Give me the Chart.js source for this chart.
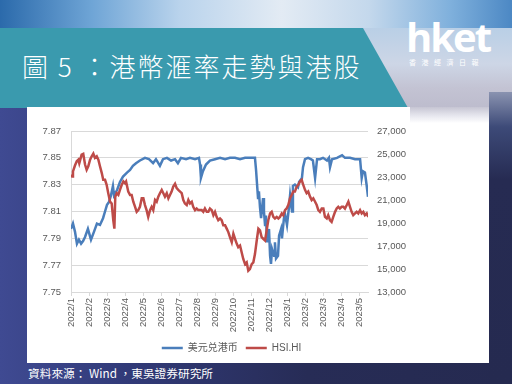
<!DOCTYPE html>
<html><head><meta charset="utf-8">
<script src="https://cdn.jsdelivr.net/npm/chart.js@4.4.1/dist/chart.umd.min.js"></script>
<style>
html,body{margin:0;padding:0;}
body{width:512px;height:384px;overflow:hidden;position:relative;
 background:linear-gradient(to right,#3f4a92 0%,#313a78 25%,#272c56 60%,#252a50 100%);
 font-family:"Noto Sans CJK TC","Noto Sans",sans-serif;}
#sky{position:absolute;left:0;top:0;width:512px;height:30px;
 background:linear-gradient(to right,#2b6aab 0%,#6fa5d6 18%,#b9d3ec 35%,#e3ebf4 55%,#c4d8ec 72%,#7fb0dc 88%,#4c88c4 100%);}
#rside{position:absolute;left:360px;top:28px;width:152px;height:80px;
 background:linear-gradient(180deg,#b9cfe6 0%,#cdd6e6 45%,#c3c3d3 75%,#bdbccd 100%);}
#rstrip{position:absolute;left:489px;top:92px;width:23px;height:292px;
 background:linear-gradient(180deg,#8a93b0 0%,#3d4a78 12%,#262b52 30%,#252a50 100%);}
#banner{position:absolute;left:0;top:28px;width:410px;height:80px;background:#3a9aae;
 clip-path:polygon(0 0,363px 0,408px 100%,0 100%);}
#title{position:absolute;left:22px;top:48px;color:#fff;font-size:26px;font-weight:300;letter-spacing:2px;white-space:nowrap;line-height:36px;}
#logo{position:absolute;left:406px;top:12px;color:#fff;font-family:"Open Sans",sans-serif;font-weight:700;font-size:40px;letter-spacing:-2px;line-height:50px;}
#logosub{position:absolute;left:409px;top:57px;color:#fff;font-size:7px;letter-spacing:5.5px;white-space:nowrap;line-height:10px;}
#box{position:absolute;left:27px;top:107px;width:462px;height:256px;background:#fff;}
#rfade{position:absolute;left:410px;top:107px;width:79px;height:16px;background:linear-gradient(180deg,#c6c5d3 0%,#e4e4ec 50%,rgba(255,255,255,0) 100%);}
#src{position:absolute;left:28px;top:364px;color:#fff;font-size:11.7px;white-space:nowrap;line-height:18px;}
canvas{display:block;}
</style></head>
<body>
<div id="sky"></div>
<div id="rside"></div>
<div id="rstrip"></div>
<div id="banner"></div>
<div id="title">圖 5 ：港幣滙率走勢與港股</div>
<div id="logo">hket</div>
<div id="logosub">香港經濟日報</div>
<div id="box"><canvas id="c" width="462" height="256"></canvas></div>
<div id="rfade"></div>
<div id="src">資料來源： Wind ，東吳證券研究所</div>
<script>
// x positions are in months since 2022/1
const monthLabels = ["2022/1","2022/2","2022/3","2022/4","2022/5","2022/6","2022/7","2022/8","2022/9","2022/10","2022/11","2022/12","2023/1","2023/2","2023/3","2023/4","2023/5"];
const seriesNames = ["美元兑港币","HSI.HI"];

const usdX = [0.00,0.11,0.22,0.33,0.44,0.56,0.67,0.78,0.94,1.11,1.28,1.44,1.61,1.78,1.89,2.00,2.11,2.22,2.33,2.39,2.56,2.72,2.89,3.11,3.28,3.44,3.61,3.83,4.11,4.33,4.56,4.72,4.94,5.11,5.33,5.56,5.78,5.94,6.11,6.39,6.61,6.89,7.11,7.17,7.22,7.33,7.50,7.72,8.00,8.28,8.56,8.83,9.11,9.39,9.67,9.94,10.22,10.28,10.39,10.44,10.50,10.56,10.67,10.72,10.78,10.83,10.89,11.00,11.06,11.11,11.17,11.28,11.33,11.39,11.50,11.56,11.67,11.72,11.83,11.89,12.00,12.11,12.17,12.28,12.33,12.44,12.61,12.67,12.83,12.89,13.00,13.17,13.33,13.44,13.56,13.67,13.83,14.00,14.22,14.33,14.39,14.50,14.78,15.06,15.22,15.50,15.78,16.06,16.15,16.22,16.33,16.43,16.50];
const usdHkd = [7.797,7.801,7.795,7.786,7.789,7.786,7.788,7.791,7.797,7.789,7.795,7.801,7.800,7.805,7.810,7.815,7.817,7.822,7.829,7.822,7.826,7.832,7.836,7.839,7.841,7.844,7.846,7.848,7.850,7.849,7.846,7.849,7.844,7.849,7.850,7.848,7.849,7.846,7.850,7.849,7.850,7.849,7.850,7.845,7.835,7.840,7.845,7.848,7.849,7.850,7.849,7.850,7.850,7.849,7.850,7.850,7.850,7.841,7.820,7.825,7.813,7.805,7.820,7.810,7.800,7.807,7.787,7.797,7.777,7.771,7.782,7.777,7.787,7.775,7.777,7.792,7.797,7.790,7.805,7.808,7.800,7.813,7.822,7.810,7.829,7.830,7.828,7.832,7.835,7.843,7.849,7.850,7.849,7.848,7.835,7.849,7.849,7.850,7.848,7.850,7.843,7.849,7.850,7.852,7.850,7.850,7.849,7.849,7.835,7.840,7.839,7.829,7.821];

const hsiX = [0.00,0.06,0.11,0.22,0.32,0.41,0.46,0.59,0.68,0.78,0.87,0.96,1.06,1.15,1.24,1.33,1.43,1.52,1.61,1.71,1.79,1.89,1.98,2.07,2.17,2.26,2.35,2.41,2.46,2.54,2.63,2.72,2.82,2.91,3.00,3.06,3.18,3.28,3.37,3.46,3.56,3.65,3.74,3.83,3.93,4.02,4.11,4.20,4.29,4.39,4.48,4.57,4.67,4.76,4.85,4.94,5.04,5.13,5.22,5.32,5.41,5.50,5.59,5.68,5.78,5.87,5.96,6.06,6.15,6.24,6.33,6.43,6.52,6.61,6.71,6.79,6.89,6.98,7.07,7.17,7.26,7.35,7.44,7.54,7.63,7.72,7.82,7.91,8.00,8.09,8.18,8.28,8.37,8.46,8.56,8.65,8.74,8.83,8.93,9.02,9.11,9.21,9.29,9.39,9.48,9.57,9.67,9.76,9.85,9.94,10.04,10.13,10.22,10.32,10.41,10.50,10.59,10.68,10.78,10.87,10.96,11.06,11.15,11.24,11.33,11.43,11.52,11.61,11.71,11.79,11.89,11.98,12.07,12.17,12.26,12.35,12.44,12.54,12.63,12.72,12.82,12.87,13.00,13.09,13.18,13.28,13.37,13.46,13.56,13.65,13.74,13.83,13.93,14.02,14.11,14.21,14.29,14.39,14.48,14.57,14.67,14.76,14.85,14.94,15.04,15.13,15.22,15.32,15.41,15.50,15.59,15.68,15.78,15.87,15.96,16.06,16.15,16.24,16.33,16.43,16.52];
const hsi = [23200,23050,23480,24000,24370,24510,24200,24950,25010,24080,23630,23930,24510,24800,25040,24660,24800,24510,23930,23340,22760,22760,22320,21590,20850,20700,19240,18510,21290,21590,21440,21880,22320,22610,22460,22610,21730,21440,21440,20850,20410,19970,20120,20410,21150,21150,20560,20120,19530,20120,20410,20120,21000,20850,21290,21590,21880,21590,21290,21590,21150,21440,21730,22170,22410,22030,21880,21730,21590,21000,20700,20560,21000,20700,20850,20410,20120,20260,20120,20120,20120,19970,20260,19970,19970,20260,20120,19680,19970,19530,19240,19390,19240,18800,18800,18510,18210,17770,17330,18070,17630,17190,16900,17040,16450,15870,15430,15580,14850,14990,15430,15580,16300,17500,18500,18360,17770,17630,17480,18360,19240,19830,19970,19530,19390,19530,19390,19530,19830,19680,20120,20260,20560,21150,21440,21730,21730,22170,22320,22610,22760,22460,21880,21590,21730,21290,21000,21150,20850,20560,20120,19970,20260,20260,19530,19390,19680,19240,19090,19530,19970,20260,20410,20260,20410,20410,20260,20560,20850,20410,19970,19680,19830,19970,19830,20120,19830,19970,19680,19830,19530];

const leftTicks = {min:7.75, max:7.87, step:0.02};
const rightTicks = {min:13000, max:27000, step:2000};

const toPts = (xs, ys) => xs.map((x,i)=>({x:x, y:ys[i]}));
const FONT = "'Liberation Sans','Noto Sans CJK SC',sans-serif";
const TXT = '#595959';
const GRID = '#d9d9d9';

const legendShift = {
  id:'legendShift',
  afterLayout(chart){ if(chart.legend){ chart.legend.left += 12; chart.legend.right += 12; } }
};

new Chart(document.getElementById('c'), {
  type:'line',
  data:{datasets:[
    {label:seriesNames[0], data:toPts(usdX,usdHkd), yAxisID:'y', borderColor:'#4a7ebb', backgroundColor:'#4a7ebb', borderWidth:2.5, pointRadius:0, tension:0, order:2},
    {label:seriesNames[1], data:toPts(hsiX,hsi), yAxisID:'y2', borderColor:'#be4b48', backgroundColor:'#be4b48', borderWidth:2.5, pointRadius:0, tension:0, order:1}
  ]},
  plugins:[legendShift],
  options:{
    responsive:false, animation:false, devicePixelRatio:1,
    layout:{padding:{top:24,left:0,right:0,bottom:0}},
    plugins:{
      tooltip:{enabled:false},
      legend:{position:'bottom', fullSize:false,
        labels:{usePointStyle:true, pointStyle:'line', pointStyleWidth:21, boxHeight:10, padding:8, color:TXT, font:{family:FONT,size:10},
          sort:(a,b)=>a.datasetIndex-b.datasetIndex}}
    },
    scales:{
      x:{type:'linear', min:0, max:16.5,
        afterBuildTicks:(s)=>{s.ticks = monthLabels.map((l,i)=>({value:i}));},
        ticks:{autoSkip:false, minRotation:90, maxRotation:90, padding:2, color:TXT, font:{family:FONT,size:9.5},
          callback:(v)=>monthLabels[v]},
        grid:{drawOnChartArea:false, drawTicks:true, tickLength:4, color:GRID},
        border:{display:true, color:GRID},
        afterFit:(s)=>{s.height=43;}
      },
      y:{position:'left', min:leftTicks.min, max:leftTicks.max,
        ticks:{stepSize:leftTicks.step, padding:10, color:TXT, font:{family:FONT,size:9.5}, callback:(v)=>Number(v).toFixed(2)},
        grid:{color:GRID, drawTicks:false, lineWidth:1},
        border:{display:true, color:GRID},
        afterFit:(s)=>{s.width=44;}
      },
      y2:{position:'right', min:rightTicks.min, max:rightTicks.max,
        ticks:{stepSize:rightTicks.step, padding:9, color:TXT, font:{family:FONT,size:9.5}, callback:(v)=>Number(v).toLocaleString('en-US')},
        grid:{display:false, drawTicks:false},
        border:{display:false},
        afterFit:(s)=>{s.width=121;}
      }
    }
  }
});
</script>
</body></html>
